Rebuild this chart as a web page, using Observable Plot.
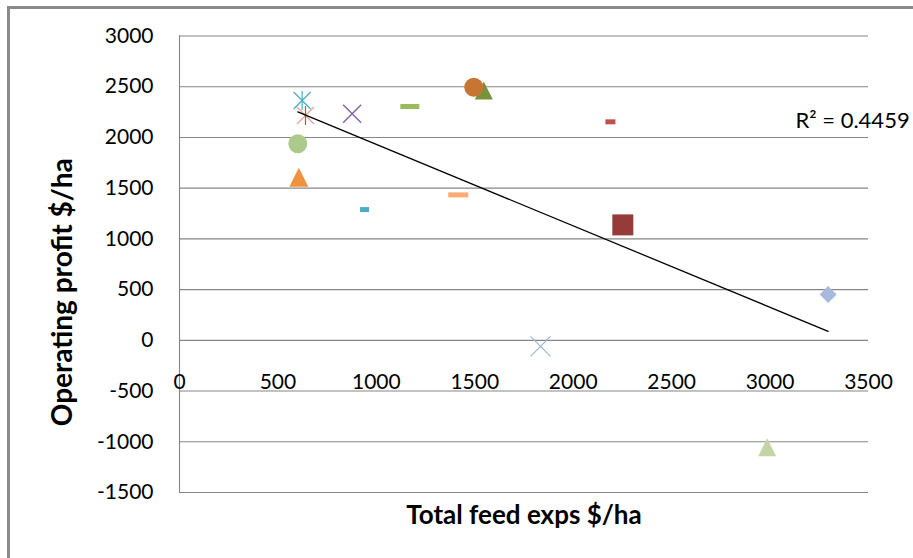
<!DOCTYPE html>
<html><head><meta charset="utf-8">
<script src="https://cdn.jsdelivr.net/npm/d3@7"></script>
<script src="https://cdn.jsdelivr.net/npm/@observablehq/plot@0.6"></script>
<style>
html,body{margin:0;padding:0;background:#fff;}
#wrap{position:relative;width:913px;height:558px;overflow:hidden;background:#fff;}
#frame{position:absolute;left:7px;top:6px;width:1000px;height:1000px;border-left:3px solid #8a8a8a;border-top:3px solid #8a8a8a;box-sizing:border-box;pointer-events:none;}
#chart{position:absolute;left:0;top:0;}
</style></head><body>
<div id="wrap"><div id="chart"></div><div id="frame"></div></div>
<script>
// ---- data ----
const series = ["Series 1","Series 2","Series 3","Series 4","Series 5","Series 6","Series 7","Series 8",
  "Series 9","Series 10","Series 11","Series 12","Series 13","Series 14","Series 15"];
const feedExps = [623, 640, 877, 1170, 1546, 1495, 601, 606, 940, 1416, 2252, 2189, 3295, 1834, 2985];
const operatingProfit = [2364, 2216, 2233, 2305, 2462, 2495, 1937, 1607, 1289, 1434, 1138, 2154, 451, -59, -1055];
const xTicks = [0, 500, 1000, 1500, 2000, 2500, 3000, 3500];
const yTicks = [-1500, -1000, -500, 0, 500, 1000, 1500, 2000, 2500, 3000];
const r2Label = "R² = 0.4459";
const xTitle = "Total feed exps $/ha";
const yTitle = "Operating profit $/ha";

// ---- marker styles ----
function sym(fn){ return {draw(c, size){ const r = Math.sqrt(size / Math.PI); fn(c, r); }}; }
const SYM = {
  circle: sym((c,r)=>{ c.moveTo(r,0); c.arc(0,0,r,0,2*Math.PI); c.closePath(); }),
  square: sym((c,r)=>{ c.rect(-r,-r,2*r,2*r); }),
  triangle: sym((c,r)=>{ c.moveTo(0,-r); c.lineTo(r,r); c.lineTo(-r,r); c.closePath(); }),
  diamond: sym((c,r)=>{ c.moveTo(0,-r); c.lineTo(r,0); c.lineTo(0,r); c.lineTo(-r,0); c.closePath(); }),
  dash: sym((c,r)=>{ c.rect(-r,-2.5,2*r,5); }),
  x: sym((c,r)=>{ c.moveTo(-r,-r); c.lineTo(r,r); c.moveTo(r,-r); c.lineTo(-r,r); }),
  vline: sym((c,r)=>{ c.moveTo(0,-r); c.lineTo(0,r); })
};
const styles = [
  [{s:"x", r:8.5, stroke:"#4BACC6", w:1.2}, {s:"vline", r:9.5, stroke:"#4BACC6", w:1.2}],
  [{s:"x", r:8.5, stroke:"#E6A3A1", w:1.2}, {s:"vline", r:9.5, stroke:"#C0504D", w:1.2}],
  [{s:"x", r:9, stroke:"#8064A2", w:1.4}],
  [{s:"dash", r:9.5, fill:"#9BBB59"}],
  [{s:"triangle", r:9, fill:"#77933C"}],
  [{s:"circle", r:9.5, fill:"#C77532"}],
  [{s:"circle", r:9.5, fill:"#ADC98B"}],
  [{s:"triangle", r:9.5, fill:"#F2913D"}],
  [{s:"dash", r:4.5, fill:"#4BACC6"}],
  [{s:"dash", r:10, fill:"#FAAB78"}],
  [{s:"square", r:10.5, fill:"#953B39"}],
  [{s:"dash", r:5, fill:"#C0504D"}],
  [{s:"diamond", r:8.5, fill:"#A7B9DC"}],
  [{s:"x", r:10, stroke:"#95B3D7", w:1.1}],
  [{s:"triangle", r:9, fill:"#C3D5A5"}]
];

const idx = series.map((_, i) => i);
const X = i => feedExps[i], Y = i => operatingProfit[i];
const fmt = d => String(d);

const dotMarks = [];
idx.forEach(i => {
  styles[i].forEach(st => {
    dotMarks.push(Plot.dot([i], {
      x: X, y: Y, symbol: SYM[st.s], r: st.r,
      fill: st.fill || "none", stroke: st.stroke || "none", strokeWidth: st.w || 1
    }));
  });
});

const chart = Plot.plot({
  width: 913, height: 558,
  marginLeft: 179, marginRight: 45, marginTop: 35.5, marginBottom: 66,
  style: {fontFamily: "Lato, sans-serif", fontSize: "21px", color: "#000", background: "#fff"},
  x: {domain: [0, 3500]},
  y: {domain: [-1500, 3000]},
  marks: [
    Plot.gridY(yTicks, {stroke: "#868686", strokeOpacity: 1, strokeWidth: 1.1}),
    Plot.ruleX([0], {stroke: "#868686", strokeWidth: 1.1}),
    Plot.axisY(yTicks, {tickSize: 0, tickPadding: 26, label: null, tickFormat: fmt}),
    Plot.axisX(xTicks, {tickSize: 0, tickPadding: 0, dy: -118.5, label: null, tickFormat: fmt}),
    ...dotMarks,
    Plot.linearRegressionY(idx, {x: X, y: Y, ci: 0, stroke: "#000", strokeWidth: 1.3}),
    Plot.text([r2Label], {frameAnchor: "top-right", textAnchor: "start", lineAnchor: "middle", dx: -73, dy: 84.5, fontSize: 22}),
    Plot.text([xTitle], {frameAnchor: "bottom", lineAnchor: "bottom", dy: 31, fontSize: 26, fontWeight: "bold"}),
    Plot.text([yTitle], {frameAnchor: "left", textAnchor: "middle", rotate: -90, lineAnchor: "middle", dx: -116, dy: 28, fontSize: 28, fontWeight: "bold"})
  ]
});
document.getElementById("chart").appendChild(chart);
</script>
</body></html>
